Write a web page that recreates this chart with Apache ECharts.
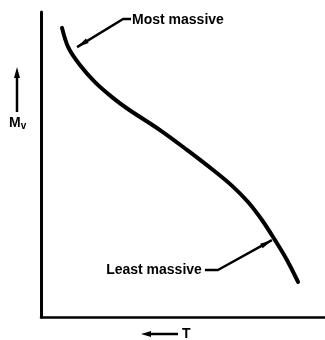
<!DOCTYPE html>
<html>
<head>
<meta charset="utf-8">
<script src="https://cdn.jsdelivr.net/npm/echarts@6/dist/echarts.min.js"></script>
<style>
  html, body { margin: 0; padding: 0; background: #fff; }
  #chart { width: 325px; height: 340px; }
</style>
</head>
<body>
<div id="chart"></div>
<script>
// Main-sequence track: temperature (decreasing to the right) vs absolute magnitude,
// both in relative units (0-100 of the axis range).
var trackT  = [7.4, 9.7, 13.7, 19.0, 25.0, 30.6, 41.9, 51.4, 60.6, 67.3, 72.9, 77.8, 82.4, 86.6, 90.5];
var trackMv = [94.8, 88.2, 82.6, 77.0, 72.1, 68.2, 61.3, 54.8, 48.2, 43.0, 37.7, 31.8, 25.2, 18.7, 11.5];

// Leader lines for the two labels (from label end to the curve)
var mostLeaderT  = [31.7, 28.9, 12.7];
var mostLeaderMv = [97.7, 97.7, 88.5];
var leastLeaderT  = [57.7, 62.3, 81.3];
var leastLeaderMv = [15.4, 15.4, 25.2];

var labelMost = 'Most massive';
var labelLeast = 'Least massive';
var axisNameY = 'M';
var axisNameYSub = 'v';
var axisNameX = 'T';

function pairs(xs, ys) { return xs.map(function (x, i) { return [x, ys[i]]; }); }

var font = '"Liberation Sans", Arial, sans-serif';
var chart = echarts.init(document.getElementById('chart'), null, { renderer: 'canvas' });

function leader(xs, ys) {
  return {
    type: 'line',
    data: pairs(xs, ys),
    silent: true,
    showSymbol: false,
    lineStyle: { color: '#000', width: 2.5 },
    z: 3
  };
}

chart.setOption({
  animation: false,
  backgroundColor: '#fff',
  grid: { left: 41, right: 0, top: 12, bottom: 23 },
  xAxis: {
    type: 'value', min: 0, max: 100,
    axisLine: { show: true, lineStyle: { color: '#000', width: 2.5 } },
    axisTick: { show: false }, axisLabel: { show: false }, splitLine: { show: false }
  },
  yAxis: {
    type: 'value', min: 0, max: 100,
    axisLine: { show: true, lineStyle: { color: '#000', width: 3 } },
    axisTick: { show: false }, axisLabel: { show: false }, splitLine: { show: false }
  },
  series: [
    {
      type: 'line',
      data: pairs(trackT, trackMv),
      smooth: 0.35,
      showSymbol: false,
      lineStyle: { color: '#000', width: 4, cap: 'round' },
      z: 4
    },
    leader(mostLeaderT, mostLeaderMv),
    leader(leastLeaderT, leastLeaderMv)
  ]
});

// Arrowheads at the tip of each leader
function tip(xs, ys) {
  var n = xs.length;
  var a = chart.convertToPixel({ gridIndex: 0 }, [xs[n - 2], ys[n - 2]]);
  var b = chart.convertToPixel({ gridIndex: 0 }, [xs[n - 1], ys[n - 1]]);
  var ang = Math.atan2(b[1] - a[1], b[0] - a[0]);
  var L = 12, W = 2.6;
  var bx = b[0] - L * Math.cos(ang), by = b[1] - L * Math.sin(ang);
  var nx = -Math.sin(ang) * W, ny = Math.cos(ang) * W;
  return {
    type: 'polygon',
    shape: { points: [[b[0], b[1]], [bx + nx, by + ny], [bx - nx, by - ny]] },
    style: { fill: '#000' }
  };
}

var mostStart = chart.convertToPixel({ gridIndex: 0 }, [mostLeaderT[0], mostLeaderMv[0]]);
var leastStart = chart.convertToPixel({ gridIndex: 0 }, [leastLeaderT[0], leastLeaderMv[0]]);

chart.setOption({
  graphic: [
    tip(mostLeaderT, mostLeaderMv),
    tip(leastLeaderT, leastLeaderMv),
    {
      type: 'text', x: mostStart[0] + 1, y: mostStart[1] + 1,
      style: { text: labelMost, font: 'bold 14px ' + font, fill: '#000', verticalAlign: 'middle', textAlign: 'left' }
    },
    {
      type: 'text', x: leastStart[0] - 3, y: leastStart[1],
      style: { text: labelLeast, font: 'bold 14px ' + font, fill: '#000', verticalAlign: 'middle', textAlign: 'right' }
    },
    // Y axis name with upward arrow
    { type: 'line', shape: { x1: 17, y1: 112, x2: 17, y2: 74 }, style: { stroke: '#000', lineWidth: 2.5 } },
    { type: 'polygon', shape: { points: [[17, 67], [14, 78], [20, 78]] }, style: { fill: '#000' } },
    {
      type: 'text', x: 9, y: 123,
      style: {
        text: '{m|' + axisNameY + '}{s|' + axisNameYSub + '}',
        verticalAlign: 'middle',
        rich: {
          m: { font: 'bold 14px ' + font, fill: '#000' },
          s: { font: 'bold 10px ' + font, fill: '#000', verticalAlign: 'bottom', padding: [7, 0, 0, 0] }
        }
      }
    },
    // X axis name with leftward arrow
    { type: 'line', shape: { x1: 178, y1: 334, x2: 148, y2: 334 }, style: { stroke: '#000', lineWidth: 2.5 } },
    { type: 'polygon', shape: { points: [[141, 334], [151, 331], [151, 337]] }, style: { fill: '#000' } },
    {
      type: 'text', x: 182, y: 334,
      style: { text: axisNameX, font: 'bold 14px ' + font, fill: '#000', verticalAlign: 'middle' }
    }
  ]
});
</script>
</body>
</html>
